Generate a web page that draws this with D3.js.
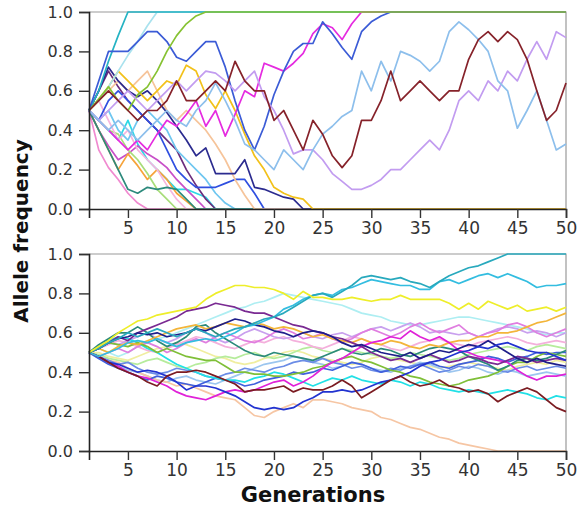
<!DOCTYPE html>
<html>
<head>
<meta charset="utf-8">
<script src="https://cdn.jsdelivr.net/npm/d3@7"></script>
<style>
  body { margin: 0; background: #fff; }
  svg { font-family: "DejaVu Sans", sans-serif; }
</style>
</head>
<body>
<svg id="chart"></svg>
<script>
// generations on the x axis
const generations = d3.range(1, 51);
const xTicks = [5, 10, 15, 20, 25, 30, 35, 40, 45, 50];
const yTicks = [0, 0.2, 0.4, 0.6, 0.8, 1.0];

// ---- top panel: small population (fast drift) ----
const smallColors = ["#2dd8e6", "#f08ad0", "#c850c8", "#f6a33a", "#6b2d7d", "#a8dd7a", "#f6b6de",
  "#6ec6f0", "#2d8a7c", "#2f4fe0", "#f6c49a", "#2b2b8f", "#f2c11a",
  "#a9e2ee", "#25b3c3", "#e52be0", "#3b5bd6", "#86c232",
  "#c29cf0", "#8dbfec", "#86222a"];
const smallRuns = [
  // cyan
  [.5,.45,.4,.35,.45,.33,.25,.2,.15,.1,.1,.08,.06,0,0,0,0,0,0,0,0,0,0,0,0,0,0,0,0,0,0,0,0,0,0,0,0,0,0,0,0,0,0,0,0,0,0,0,0,0],
  // pink
  [.5,.3,.21,.15,.08,.03,0,0,0,0,0,0,0,0,0,0,0,0,0,0,0,0,0,0,0,0,0,0,0,0,0,0,0,0,0,0,0,0,0,0,0,0,0,0,0,0,0,0,0,0],
  // orchid
  [.5,.4,.32,.25,.28,.32,.28,.25,.21,.15,.1,.05,0,0,0,0,0,0,0,0,0,0,0,0,0,0,0,0,0,0,0,0,0,0,0,0,0,0,0,0,0,0,0,0,0,0,0,0,0,0],
  // orange
  [.5,.4,.3,.2,.28,.22,.15,.2,.15,.08,.04,0,0,0,0,0,0,0,0,0,0,0,0,0,0,0,0,0,0,0,0,0,0,0,0,0,0,0,0,0,0,0,0,0,0,0,0,0,0,0],
  // dark purple
  [.5,.6,.7,.62,.55,.5,.45,.4,.35,.3,.2,.12,.05,0,0,0,0,0,0,0,0,0,0,0,0,0,0,0,0,0,0,0,0,0,0,0,0,0,0,0,0,0,0,0,0,0,0,0,0,0],
  // light green
  [.5,.45,.4,.38,.3,.25,.18,.1,.05,0,0,0,0,0,0,0,0,0,0,0,0,0,0,0,0,0,0,0,0,0,0,0,0,0,0,0,0,0,0,0,0,0,0,0,0,0,0,0,0,0],
  // light pink
  [.5,.55,.45,.35,.4,.3,.25,.2,.12,.05,0,0,0,0,0,0,0,0,0,0,0,0,0,0,0,0,0,0,0,0,0,0,0,0,0,0,0,0,0,0,0,0,0,0,0,0,0,0,0,0],
  // sky
  [.5,.45,.5,.4,.35,.45,.5,.45,.4,.3,.25,.2,.15,.08,.03,0,0,0,0,0,0,0,0,0,0,0,0,0,0,0,0,0,0,0,0,0,0,0,0,0,0,0,0,0,0,0,0,0,0,0],
  // dark teal
  [.5,.4,.3,.2,.1,.08,.11,.1,.11,.1,.05,0,0,0,0,0,0,0,0,0,0,0,0,0,0,0,0,0,0,0,0,0,0,0,0,0,0,0,0,0,0,0,0,0,0,0,0,0,0,0],
  // blue
  [.5,.45,.55,.6,.55,.5,.45,.4,.3,.2,.15,.11,.11,.11,.13,.15,.15,.08,0,0,0,0,0,0,0,0,0,0,0,0,0,0,0,0,0,0,0,0,0,0,0,0,0,0,0,0,0,0,0,0],
  // peach
  [.5,.55,.6,.65,.6,.65,.7,.6,.5,.45,.5,.45,.4,.33,.25,.15,.07,0,0,0,0,0,0,0,0,0,0,0,0,0,0,0,0,0,0,0,0,0,0,0,0,0,0,0,0,0,0,0,0,0],
  // navy
  [.5,.6,.72,.65,.6,.57,.6,.55,.49,.42,.35,.27,.31,.18,.18,.18,.25,.11,.1,.08,.06,.05,0,0,0,0,0,0,0,0,0,0,0,0,0,0,0,0,0,0,0,0,0,0,0,0,0,0,0,0],
  // gold
  [.5,.55,.62,.7,.65,.6,.55,.6,.65,.63,.73,.7,.58,.51,.6,.5,.38,.27,.2,.11,.08,.06,.05,0,0,0,0,0,0,0,0,0,0,0,0,0,0,0,0,0,0,0,0,0,0,0,0,0,0,0],
  // light cyan
  [.5,.55,.62,.7,.78,.85,.93,1,1,1,1,1,1,1,1,1,1,1,1,1,1,1,1,1,1,1,1,1,1,1,1,1,1,1,1,1,1,1,1,1,1,1,1,1,1,1,1,1,1,1],
  // teal
  [.5,.6,.75,.88,1,1,1,1,1,1,1,1,1,1,1,1,1,1,1,1,1,1,1,1,1,1,1,1,1,1,1,1,1,1,1,1,1,1,1,1,1,1,1,1,1,1,1,1,1,1],
  // magenta
  [.5,.45,.4,.35,.3,.35,.3,.38,.45,.42,.48,.55,.42,.5,.37,.48,.6,.57,.74,.72,.7,.74,.79,.89,.94,.92,.86,.94,1,1,1,1,1,1,1,1,1,1,1,1,1,1,1,1,1,1,1,1,1,1],
  // royal blue
  [.5,.65,.8,.8,.8,.85,.9,.9,.85,.77,.75,.8,.85,.85,.72,.55,.4,.3,.42,.58,.7,.8,.84,.84,.95,.89,.82,.76,.9,.95,.98,1,1,1,1,1,1,1,1,1,1,1,1,1,1,1,1,1,1,1],
  // green
  [.5,.56,.62,.55,.5,.58,.62,.7,.8,.88,.94,.98,1,1,1,1,1,1,1,1,1,1,1,1,1,1,1,1,1,1,1,1,1,1,1,1,1,1,1,1,1,1,1,1,1,1,1,1,1,1],
  // lavender
  [.5,.45,.5,.55,.6,.55,.5,.55,.6,.65,.6,.65,.7,.69,.65,.6,.65,.7,.57,.5,.4,.28,.3,.3,.25,.18,.14,.1,.1,.12,.15,.2,.2,.25,.3,.35,.3,.4,.55,.6,.55,.65,.6,.7,.65,.76,.85,.76,.9,.87],
  // light blue
  [.5,.45,.4,.45,.4,.35,.4,.45,.5,.45,.42,.5,.55,.64,.55,.45,.33,.3,.25,.2,.3,.25,.2,.3,.38,.42,.47,.5,.7,.6,.75,.65,.8,.78,.75,.7,.75,.9,.95,.91,.86,.8,.65,.6,.41,.5,.6,.45,.3,.33],
  // brown
  [.5,.55,.6,.55,.5,.45,.5,.5,.55,.65,.55,.55,.6,.65,.6,.75,.65,.6,.6,.45,.5,.4,.3,.45,.38,.27,.21,.27,.45,.45,.55,.7,.55,.6,.65,.6,.55,.6,.6,.76,.86,.9,.85,.9,.86,.76,.6,.45,.5,.64]
];

// ---- bottom panel: large population (slow drift) ----
const largeColors = ["#f0eea0", "#b6ec9c", "#f4b0dc", "#aeeef2", "#9cc6ef", "#f6c6a4",
  "#c9a0ee", "#e07ee0", "#6b8ce6", "#4060dc", "#22e0e6", "#7fbf38", "#2b8a7a",
  "#f3b53a", "#e022d8", "#7a2a92", "#1e1e8a", "#2233d0", "#7b1c22",
  "#33bde0", "#28a9bd", "#eeee2a"];
const largeRuns = [
  [.5,.5,.48,.47,.46,.48,.5,.52,.53,.55,.54,.52,.5,.48,.47,.45,.44,.45,.47,.48,.5,.51,.5,.48,.47,.46,.45,.44,.45,.47,.48,.47,.46,.45,.44,.43,.42,.43,.44,.45,.44,.43,.42,.41,.43,.44,.45,.44,.46,.45],
  [.5,.49,.47,.46,.45,.44,.46,.47,.45,.43,.42,.44,.45,.47,.48,.47,.49,.5,.48,.47,.48,.5,.52,.53,.51,.5,.52,.51,.5,.49,.48,.47,.48,.5,.49,.48,.47,.46,.47,.49,.5,.51,.52,.53,.52,.51,.53,.54,.53,.52],
  [.5,.52,.54,.56,.55,.53,.51,.5,.52,.54,.56,.58,.57,.55,.53,.52,.54,.56,.55,.57,.58,.56,.55,.53,.52,.54,.56,.58,.57,.55,.54,.52,.51,.53,.55,.56,.57,.55,.54,.53,.55,.56,.57,.58,.57,.55,.54,.55,.56,.55],
  [.5,.52,.5,.48,.5,.53,.55,.57,.58,.6,.62,.64,.66,.68,.7,.72,.73,.75,.76,.78,.8,.79,.78,.77,.76,.75,.74,.72,.7,.69,.68,.66,.65,.64,.64,.65,.66,.67,.68,.68,.67,.66,.65,.64,.63,.62,.6,.59,.6,.6],
  [.5,.47,.45,.43,.41,.4,.38,.36,.35,.37,.38,.36,.35,.34,.36,.38,.4,.42,.44,.45,.46,.48,.47,.45,.44,.42,.43,.45,.44,.42,.41,.4,.42,.43,.45,.44,.42,.4,.41,.43,.42,.4,.39,.41,.4,.38,.39,.4,.39,.38],
  [.5,.48,.46,.45,.42,.4,.38,.36,.35,.33,.34,.32,.3,.28,.27,.26,.22,.18,.17,.2,.22,.24,.22,.26,.26,.25,.24,.22,.21,.2,.17,.16,.14,.12,.11,.09,.07,.06,.04,.03,.02,.01,0,0,0,0,0,0,0,0],
  [.5,.53,.55,.54,.56,.58,.6,.57,.55,.57,.6,.62,.6,.57,.55,.57,.6,.62,.6,.58,.57,.58,.6,.58,.57,.59,.6,.58,.6,.62,.63,.61,.63,.65,.63,.6,.61,.6,.59,.6,.58,.6,.62,.63,.62,.6,.61,.6,.58,.6],
  [.5,.48,.5,.52,.5,.53,.55,.53,.5,.52,.55,.57,.55,.58,.6,.58,.56,.55,.57,.6,.62,.6,.57,.58,.6,.57,.55,.57,.6,.62,.6,.58,.6,.63,.65,.62,.6,.62,.64,.6,.58,.6,.61,.64,.65,.63,.6,.58,.6,.62],
  [.5,.48,.46,.44,.45,.42,.4,.39,.4,.42,.41,.4,.38,.37,.39,.4,.42,.41,.4,.42,.43,.45,.46,.45,.47,.45,.44,.42,.43,.41,.4,.42,.41,.43,.44,.42,.4,.41,.43,.42,.44,.43,.41,.4,.42,.43,.41,.42,.43,.42],
  [.5,.47,.44,.42,.4,.38,.36,.38,.37,.35,.34,.33,.35,.37,.36,.35,.33,.34,.36,.37,.38,.4,.39,.4,.42,.41,.43,.45,.44,.42,.4,.41,.43,.42,.44,.45,.43,.42,.44,.45,.46,.48,.47,.45,.47,.48,.5,.49,.5,.5],
  [.5,.53,.56,.58,.57,.55,.52,.5,.47,.44,.42,.4,.38,.37,.36,.36,.35,.37,.38,.4,.39,.37,.35,.33,.35,.37,.36,.38,.36,.35,.34,.36,.35,.33,.35,.34,.32,.31,.3,.31,.3,.29,.3,.31,.3,.29,.27,.26,.28,.27],
  [.5,.52,.55,.54,.53,.55,.53,.5,.52,.5,.48,.47,.46,.46,.43,.4,.4,.39,.39,.38,.38,.39,.4,.42,.43,.45,.47,.48,.46,.45,.43,.41,.4,.38,.37,.35,.34,.33,.34,.36,.37,.38,.4,.43,.45,.45,.48,.5,.49,.48],
  [.5,.54,.57,.6,.6,.63,.6,.56,.53,.55,.58,.63,.64,.6,.57,.54,.51,.49,.48,.5,.49,.48,.47,.46,.48,.5,.52,.5,.49,.5,.52,.51,.49,.48,.5,.52,.53,.52,.51,.48,.46,.44,.41,.43,.46,.47,.46,.47,.49,.51],
  [.5,.52,.5,.53,.55,.54,.56,.58,.6,.62,.63,.64,.62,.63,.65,.64,.63,.65,.64,.62,.63,.62,.6,.58,.59,.57,.56,.55,.57,.55,.54,.56,.55,.53,.52,.54,.53,.55,.56,.56,.58,.58,.6,.6,.61,.63,.65,.66,.68,.7],
  [.5,.48,.45,.43,.4,.38,.37,.35,.33,.3,.28,.27,.26,.28,.3,.31,.3,.31,.33,.35,.36,.33,.35,.38,.42,.45,.47,.5,.53,.55,.56,.58,.57,.61,.58,.56,.58,.55,.51,.5,.48,.47,.46,.45,.41,.38,.36,.38,.38,.39],
  [.5,.52,.55,.58,.56,.6,.62,.64,.66,.68,.71,.72,.73,.75,.74,.73,.71,.7,.7,.68,.66,.64,.63,.61,.6,.58,.57,.55,.53,.5,.48,.46,.47,.45,.47,.49,.47,.45,.46,.48,.47,.45,.44,.46,.48,.47,.45,.46,.47,.46],
  [.5,.52,.55,.57,.58,.6,.59,.6,.58,.59,.6,.62,.61,.63,.65,.67,.66,.64,.63,.61,.6,.58,.6,.61,.6,.58,.55,.53,.54,.52,.5,.49,.48,.5,.47,.49,.51,.5,.52,.54,.53,.56,.53,.5,.47,.45,.47,.45,.44,.43],
  [.5,.48,.45,.44,.42,.4,.41,.4,.38,.35,.31,.33,.33,.32,.3,.28,.25,.22,.21,.22,.21,.22,.25,.27,.3,.3,.31,.3,.31,.33,.35,.36,.38,.4,.43,.45,.46,.48,.5,.51,.53,.52,.54,.55,.53,.51,.5,.5,.48,.46],
  [.5,.48,.45,.42,.4,.38,.35,.33,.38,.4,.4,.41,.4,.38,.36,.34,.3,.31,.31,.32,.33,.3,.32,.31,.31,.33,.36,.33,.27,.3,.33,.36,.38,.35,.33,.34,.36,.33,.32,.3,.31,.29,.25,.28,.3,.32,.3,.26,.22,.2],
  [.5,.48,.5,.52,.55,.56,.55,.57,.55,.53,.55,.56,.57,.56,.58,.6,.63,.64,.66,.68,.72,.74,.77,.79,.8,.79,.82,.83,.85,.87,.86,.85,.84,.84,.82,.82,.86,.87,.85,.87,.89,.9,.88,.9,.88,.86,.83,.84,.84,.85],
  [.5,.52,.55,.57,.6,.58,.6,.62,.6,.58,.6,.62,.6,.58,.6,.62,.63,.65,.67,.68,.7,.73,.76,.79,.8,.78,.81,.84,.88,.89,.88,.87,.88,.86,.85,.83,.86,.89,.91,.93,.94,.96,.98,1,1,1,1,1,1,1],
  [.5,.53,.56,.6,.63,.66,.67,.69,.7,.71,.72,.73,.77,.8,.82,.84,.84,.83,.83,.82,.8,.77,.81,.78,.78,.77,.77,.78,.77,.76,.77,.77,.79,.77,.77,.77,.77,.75,.72,.75,.72,.76,.74,.72,.74,.71,.72,.73,.71,.73]
];

const width = 578, height = 509;
const svg = d3.select("#chart")
  .attr("width", width)
  .attr("height", height)
  .attr("viewBox", [0, 0, width, height]);

svg.append("rect").attr("width", width).attr("height", height).attr("fill", "#fff");

const xScale = d3.scaleLinear().domain([1, 50]).range([89, 566]);

function drawPanel(runs, colors, top, bottom) {
  const yScale = d3.scaleLinear().domain([0, 1]).range([bottom, top]);
  const g = svg.append("g");

  // top and right frame, light grey
  g.append("path")
    .attr("d", `M89,${top}H566V${bottom}`)
    .attr("fill", "none")
    .attr("stroke", "#9a9a9a")
    .attr("stroke-width", 1.2);

  const line = d3.line()
    .x((d, i) => xScale(generations[i]))
    .y(d => yScale(d));

  g.append("g")
    .selectAll("path")
    .data(runs)
    .join("path")
    .attr("d", line)
    .attr("fill", "none")
    .attr("stroke", (d, i) => colors[i])
    .attr("stroke-width", 1.7)
    .attr("stroke-linejoin", "round");

  const yAxis = g.append("g")
    .attr("transform", "translate(89,0)")
    .call(d3.axisLeft(yScale).tickValues(yTicks).tickFormat(d3.format(".1f"))
      .tickSize(10).tickPadding(6));
  const xAxis = g.append("g")
    .attr("transform", `translate(0,${bottom})`)
    .call(d3.axisBottom(xScale).tickValues(xTicks).tickSize(9).tickPadding(4));

  for (const ax of [xAxis, yAxis]) {
    ax.select(".domain").attr("stroke", "#222").attr("stroke-width", 1.6);
    ax.selectAll(".tick line").attr("stroke", "#333").attr("stroke-width", 1.4);
    ax.selectAll(".tick text")
      .attr("fill", "#333")
      .style("font-family", "DejaVu Sans")
      .style("font-size", "16px");
  }
  xAxis.selectAll(".tick text").style("font-size", "17px");
}

drawPanel(smallRuns, smallColors, 12, 209);
drawPanel(largeRuns, largeColors, 254, 451);

svg.append("text")
  .attr("transform", "translate(28,231) rotate(-90)")
  .attr("text-anchor", "middle")
  .attr("font-weight", "bold")
  .attr("font-size", 20)
  .attr("fill", "#111")
  .text("Allele frequency");

svg.append("text")
  .attr("x", 313)
  .attr("y", 502)
  .attr("text-anchor", "middle")
  .attr("font-weight", "bold")
  .attr("font-size", 21)
  .attr("fill", "#111")
  .text("Generations");
</script>
</body>
</html>
